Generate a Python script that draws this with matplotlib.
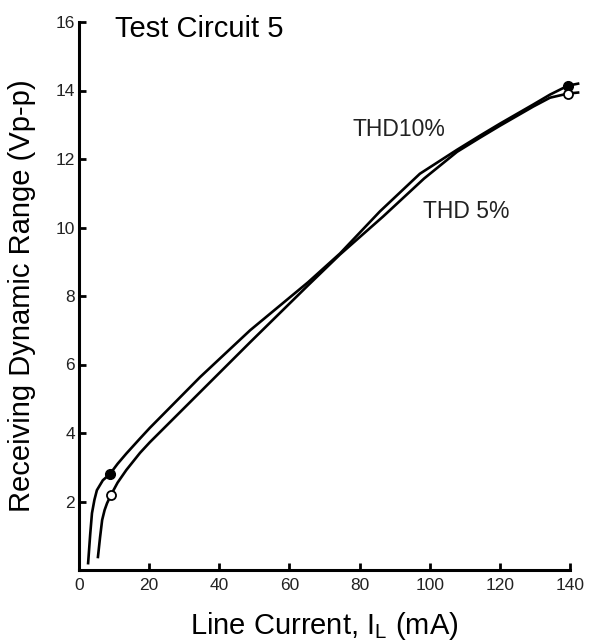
import numpy as np
import matplotlib
matplotlib.use("Agg")
import matplotlib.pyplot as plt

plt.rcParams['font.family'] = ['Liberation Sans', 'DejaVu Sans']
plt.rcParams['mathtext.fontset'] = 'custom'
plt.rcParams['mathtext.rm'] = 'Liberation Sans'

# THD 10 % curve (line current mA, dynamic range Vp-p)
thd10_x = [2.6, 3.2, 3.7, 4.4, 5.1, 6.8, 8.8, 11.0, 13.5, 17.4, 20.2, 34.5, 48.8,
           65.3, 74.4, 85.8, 97.2, 107.8, 114.3, 120.0, 129.5, 134.3, 139.4, 142.3]
thd10_y = [0.20, 1.05, 1.66, 2.05, 2.33, 2.62, 2.80, 3.10, 3.40, 3.84, 4.15, 5.63, 7.00,
           8.40, 9.24, 10.47, 11.57, 12.27, 12.68, 13.03, 13.59, 13.88, 14.14, 14.20]

# THD 5 % curve
thd5_x = [5.4, 6.0, 6.6, 7.3, 8.0, 9.1, 11.0, 13.5, 17.4, 20.2, 34.5, 48.8, 65.3,
          74.4, 86.7, 98.4, 107.8, 114.3, 120.0, 129.5, 134.3, 139.4, 142.3]
thd5_y = [0.38, 0.95, 1.46, 1.75, 1.95, 2.19, 2.55, 2.92, 3.42, 3.73, 5.19, 6.65, 8.31,
          9.21, 10.32, 11.43, 12.21, 12.62, 12.97, 13.53, 13.79, 13.91, 13.94]

# end-point markers
filled_pts = ([8.8, 139.4], [2.80, 14.14])
open_pts = ([9.1, 139.4], [2.19, 13.91])

xticks = [0, 20, 40, 60, 80, 100, 120, 140]
yticks = [2, 4, 6, 8, 10, 12, 14, 16]

fig = plt.figure(figsize=(6.06, 6.43), dpi=100)
ax = fig.add_axes([79/606, 73/643, 491/606, 548/643])

ax.plot(thd10_x, thd10_y, color='black', lw=1.9, clip_on=False, solid_joinstyle='round')
ax.plot(thd5_x, thd5_y, color='black', lw=1.9, clip_on=False, solid_joinstyle='round')
ax.plot(*filled_pts, 'o', ms=7, color='black', clip_on=False, zorder=5)
ax.plot(*open_pts, 'o', ms=6.5, mfc='white', mec='black', mew=1.3, ls='none',
        clip_on=False, zorder=5)

ax.set_xlim(0, 140)
ax.set_ylim(0, 16)
ax.set_xticks(xticks)
ax.set_yticks(yticks)
ax.tick_params(direction='in', length=5, width=2, labelsize=12.5,
               labelcolor='#222222')
ax.tick_params(axis='x', pad=6)
ax.tick_params(axis='y', pad=3)

for side in ['top', 'right']:
    ax.spines[side].set_visible(False)
for side in ['left', 'bottom']:
    ax.spines[side].set_linewidth(2.2)

ax.set_xlabel(r'Line Current, I$_\mathrm{L}$ (mA)', fontsize=21, labelpad=12)
ax.set_ylabel('Receiving Dynamic Range (Vp-p)', fontsize=21, labelpad=14)

fig.text(115/606, 1 - 37/643, 'Test Circuit 5', fontsize=21, va='baseline')
ax.text(78.1, 12.68, 'THD10%', fontsize=16.5, va='baseline', color='#222222')
ax.text(98.1, 10.29, 'THD 5%', fontsize=16.5, va='baseline', color='#222222')

fig.savefig('out.png', dpi=100)
